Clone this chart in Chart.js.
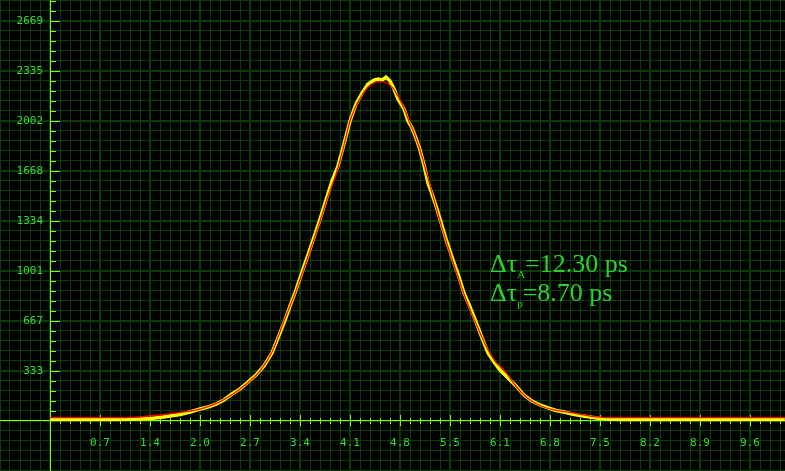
<!DOCTYPE html>
<html><head><meta charset="utf-8">
<script src="https://cdn.jsdelivr.net/npm/chart.js@4/dist/chart.umd.min.js"></script>
<style>html,body{margin:0;padding:0;background:#000;overflow:hidden}canvas{display:block}</style>
</head><body>
<canvas id="c" width="785" height="471"></canvas>
<script>
// ---- data ----
const xTickLabels = ['0.7','1.4','2.0','2.7','3.4','4.1','4.8','5.5','6.1','6.8','7.5','8.2','8.9','9.6'];
const yTickLabels = ['333','667','1001','1334','1668','2002','2335','2669'];

const measX = [0, 0.41, 0.819, 1.092, 1.229, 1.365, 1.502, 1.638, 1.775, 1.911, 2.048, 2.157, 2.266, 2.375, 2.484, 2.594, 2.703, 2.812, 2.921, 3.030, 3.112, 3.194, 3.276, 3.358, 3.440, 3.522, 3.604, 3.686, 3.767, 3.849, 3.931, 4.013, 4.095, 4.177, 4.259, 4.341, 4.423, 4.477, 4.532, 4.586, 4.641, 4.696, 4.750, 4.832, 4.887, 4.941, 4.996, 5.051, 5.105, 5.160, 5.214, 5.269, 5.324, 5.405, 5.487, 5.569, 5.651, 5.733, 5.815, 5.897, 5.979, 6.061, 6.143, 6.252, 6.361, 6.470, 6.579, 6.689, 6.798, 6.907, 7.016, 7.125, 7.235, 7.371, 7.508, 7.644, 7.781, 8.19, 8.873, 9.555, 10.03];
const measY = [10, 10, 10, 11, 13, 17, 23, 33, 43, 60, 80, 93, 113, 140, 180, 214, 260, 307, 367, 454, 554, 654, 767, 874, 994, 1108, 1228, 1348, 1475, 1601, 1701, 1848, 2002, 2115, 2188, 2248, 2275, 2282, 2275, 2295, 2268, 2215, 2148, 2082, 2002, 1955, 1888, 1808, 1708, 1588, 1515, 1434, 1348, 1214, 1094, 981, 854, 761, 661, 554, 454, 394, 340, 287, 234, 173, 133, 107, 87, 70, 60, 47, 37, 27, 17, 13, 10, 10, 10, 10, 10];

const fitX = [0, 0.819, 1.229, 1.502, 1.775, 2.048, 2.252, 2.457, 2.662, 2.867, 3.030, 3.194, 3.331, 3.454, 3.576, 3.686, 3.795, 3.918, 4.013, 4.095, 4.177, 4.259, 4.341, 4.423, 4.505, 4.586, 4.668, 4.750, 4.832, 4.900, 4.969, 5.051, 5.132, 5.228, 5.324, 5.433, 5.542, 5.665, 5.801, 5.938, 6.074, 6.211, 6.347, 6.484, 6.620, 6.757, 6.893, 7.098, 7.371, 7.644, 10.03];
const fitY = [22, 22, 28, 40, 57, 80, 113, 167, 240, 334, 460, 667, 834, 1001, 1174, 1334, 1501, 1668, 1841, 2002, 2102, 2175, 2228, 2255, 2264, 2258, 2228, 2168, 2088, 2002, 1922, 1808, 1668, 1501, 1334, 1161, 1001, 827, 667, 514, 400, 334, 240, 167, 120, 90, 73, 57, 33, 23, 22];

const annotLines = [
  {main: 'Δτ', sub: 'A', rest: '=12.30 ps'},
  {main: 'Δτ', sub: 'p', rest: '=8.70 ps'}
];

// ---- scale geometry ----
const X_STEP = 0.1365, Y_STEP = 66.72;       // minor grid spacing
const X_MIN = -0.6825, X_MAX = 10.03275;
const Y_MIN = -333.6, Y_MAX = 2808.9;

const AXIS_COLOR = '#80ff00';
const GRID_COLOR = '#0a3c0a';
const LABEL_COLOR = '#33dd33';
const TEXT_COLOR = '#2bd42b';

function gridTicks(min, max, step) {
  const out = [];
  const k0 = Math.ceil(min / step - 1e-6), k1 = Math.floor(max / step + 1e-6);
  for (let k = k0; k <= k1; k++) out.push({value: k * step});
  return out;
}
const isMajor = (v, step) => Math.round(v / step) % 5 === 0;
const zeroPad = s => { s.paddingLeft = s.paddingRight = s.paddingTop = s.paddingBottom = 0; };

const bgPlugin = {
  id: 'bg',
  beforeDraw(chart) {
    const {ctx, width, height} = chart;
    ctx.save(); ctx.fillStyle = '#000'; ctx.fillRect(0, 0, width, height); ctx.restore();
  }
};

const axisTicks = {
  id: 'axisTicks',
  beforeDatasetsDraw(chart) {
    const {ctx} = chart;
    const xs = chart.scales.x, ys = chart.scales.y;
    const x0 = Math.round(xs.getPixelForValue(0));
    const y0 = Math.round(ys.getPixelForValue(0));
    ctx.save();
    ctx.fillStyle = AXIS_COLOR;
    ys.ticks.forEach(t => {
      const k = Math.round(t.value / Y_STEP);
      if (k <= 0) return;
      const py = Math.round(ys.getPixelForValue(t.value));
      ctx.fillRect(x0, py, k % 5 === 0 ? 10 : 6, 1);
    });
    xs.ticks.forEach(t => {
      const k = Math.round(t.value / X_STEP);
      if (k <= 0) return;
      const px = Math.round(xs.getPixelForValue(t.value));
      if (k % 5 === 0) ctx.fillRect(px, y0 - 6, 1, 11);
      else ctx.fillRect(px, y0 - 3, 1, 6);
    });
    ctx.restore();
  }
};

const annot = {
  id: 'annot',
  afterDraw(chart) {
    const {ctx} = chart;
    ctx.save();
    ctx.fillStyle = TEXT_COLOR;
    ctx.textBaseline = 'alphabetic';
    const x0 = 490, baselines = [271.5, 300.5];
    annotLines.forEach((ln, i) => {
      let x = x0;
      const b = baselines[i];
      ctx.font = "26px 'Liberation Serif'";
      ctx.fillText(ln.main, x, b); x += ctx.measureText(ln.main).width;
      ctx.font = "11px 'Liberation Serif'";
      ctx.fillText(ln.sub, x, b + 6); x += ctx.measureText(ln.sub).width;
      ctx.font = "26px 'Liberation Serif'";
      ctx.fillText(ln.rest, x, b);
    });
    ctx.restore();
  }
};

const tickFont = {family: "'DejaVu Sans Mono', monospace", size: 11};

new Chart(document.getElementById('c'), {
  type: 'line',
  data: {
    datasets: [
      {
        label: 'fit',
        data: fitX.map((x, i) => ({x, y: fitY[i]})),
        borderColor: '#ff0000',
        borderWidth: 1.3,
        pointRadius: 0,
        cubicInterpolationMode: 'monotone',
        order: 0
      },
      {
        label: 'measured',
        data: measX.map((x, i) => ({x, y: measY[i]})),
        borderColor: '#ffff00',
        borderWidth: 3.5,
        pointRadius: 0,
        tension: 0,
        order: 1
      }
    ]
  },
  options: {
    responsive: false,
    animation: false,
    devicePixelRatio: 1,
    layout: {padding: 0, autoPadding: false},
    plugins: {legend: {display: false}, tooltip: {enabled: false}, title: {display: false}},
    scales: {
      x: {
        type: 'linear',
        position: {y: 0},
        min: X_MIN, max: X_MAX,
        afterBuildTicks: s => { s.ticks = gridTicks(X_MIN, X_MAX, X_STEP); },
        afterFit: zeroPad,
        grid: {
          z: -1,
          drawTicks: false,
          color: GRID_COLOR,
          lineWidth: c => (c.tick && isMajor(c.tick.value, X_STEP)) ? 2 : 1
        },
        border: {display: true, color: AXIS_COLOR, width: 1},
        ticks: {
          autoSkip: false, maxRotation: 0, minRotation: 0,
          padding: 16,
          color: LABEL_COLOR, font: tickFont,
          callback: v => { const k = Math.round(v / X_STEP); return (k > 0 && k % 5 === 0 && xTickLabels[k / 5 - 1]) || ''; }
        }
      },
      y: {
        type: 'linear',
        position: {x: 0},
        min: Y_MIN, max: Y_MAX,
        afterBuildTicks: s => { s.ticks = gridTicks(Y_MIN, Y_MAX, Y_STEP); },
        afterFit: zeroPad,
        grid: {
          z: -1,
          drawTicks: false,
          color: GRID_COLOR,
          lineWidth: c => (c.tick && isMajor(c.tick.value, Y_STEP)) ? 2 : 1
        },
        border: {display: true, color: AXIS_COLOR, width: 1},
        ticks: {display: false}
      },
      yl: {
        axis: 'y',
        type: 'linear',
        position: {x: -0.0955},
        min: Y_MIN, max: Y_MAX,
        afterBuildTicks: s => { s.ticks = gridTicks(Y_MIN, Y_MAX, Y_STEP); },
        afterFit: zeroPad,
        grid: {display: false, drawTicks: false},
        border: {display: false},
        ticks: {
          autoSkip: false, padding: 0,
          color: LABEL_COLOR, font: tickFont,
          callback: v => { const k = Math.round(v / Y_STEP); return (k > 0 && k % 5 === 0 && yTickLabels[k / 5 - 1]) || ''; }
        }
      }
    }
  },
  plugins: [bgPlugin, axisTicks, annot]
});
</script>
</body></html>
